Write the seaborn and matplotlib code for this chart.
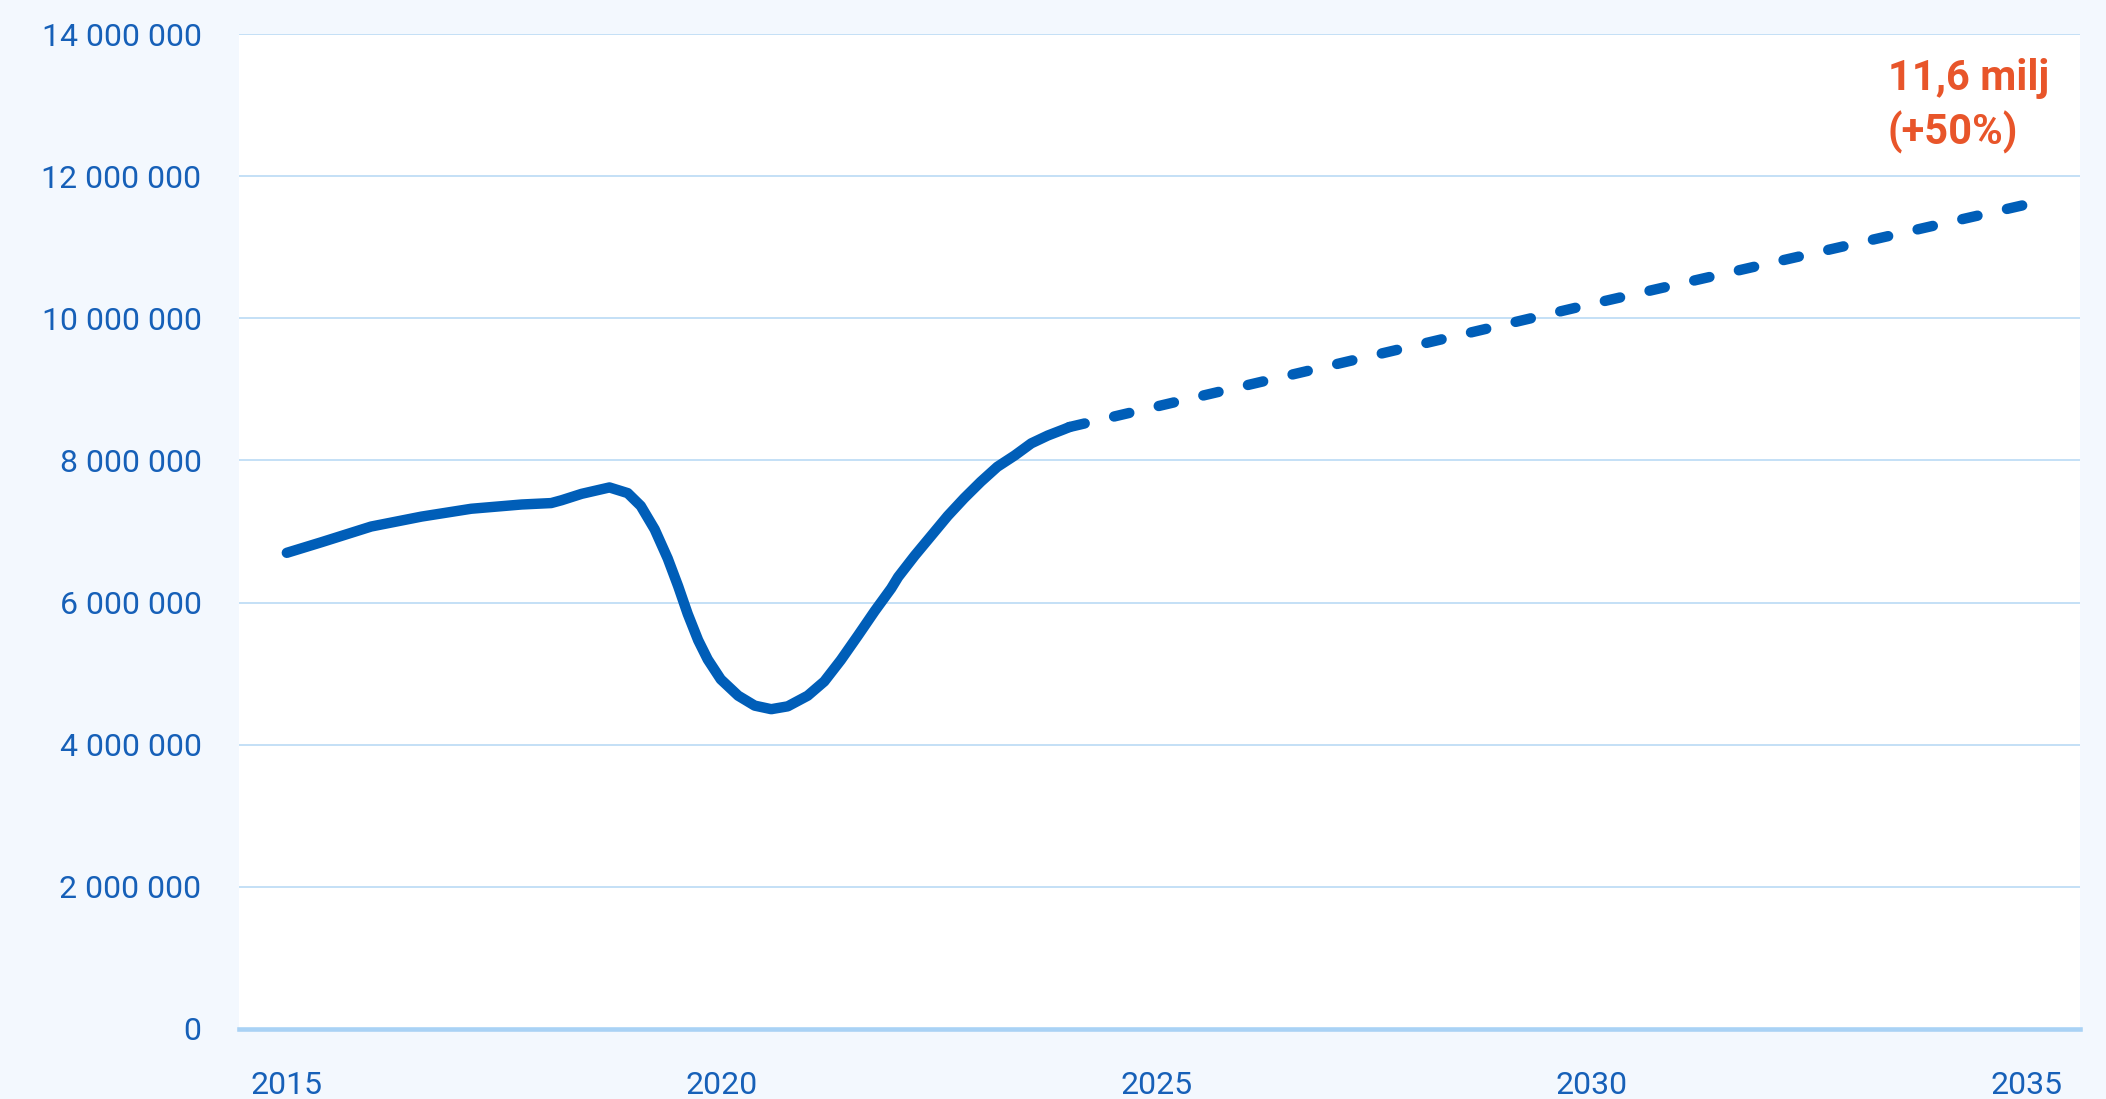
import matplotlib
matplotlib.use("Agg")
import matplotlib.pyplot as plt
import pandas as pd
import seaborn as sns

# Utfall (solid line), values in millions
years_actual = [2015.0, 2015.4, 2015.97, 2016.55, 2017.12, 2017.7, 2018.04, 2018.16,
                2018.39, 2018.71, 2018.92, 2019.07, 2019.23, 2019.38, 2019.5, 2019.61,
                2019.73, 2019.84, 2019.99, 2020.19, 2020.38, 2020.57, 2020.76, 2020.99,
                2021.18, 2021.37, 2021.57, 2021.76, 2021.95, 2022.03, 2022.22, 2022.41,
                2022.6, 2022.79, 2022.98, 2023.17, 2023.37, 2023.56, 2023.75, 2023.94,
                2024.0]
values_actual = [6.70, 6.85, 7.07, 7.21, 7.32, 7.38, 7.40, 7.44,
                 7.53, 7.62, 7.54, 7.36, 7.03, 6.62, 6.23, 5.84,
                 5.47, 5.20, 4.92, 4.69, 4.55, 4.50, 4.54, 4.69,
                 4.89, 5.19, 5.54, 5.88, 6.20, 6.36, 6.66, 6.94,
                 7.22, 7.47, 7.70, 7.91, 8.07, 8.24, 8.35, 8.44,
                 8.47]

# Prognos (dashed line)
years_forecast = [2024, 2030, 2035]
values_forecast = [8.47, 10.2, 11.6]

x_ticks = [2015, 2020, 2025, 2030, 2035]
y_ticks = [0, 2_000_000, 4_000_000, 6_000_000, 8_000_000, 10_000_000, 12_000_000, 14_000_000]
note = "11,6 milj\n(+50%)"

BG = "#F3F8FE"
LINE = "#005EB8"
TEXT = "#1660B8"
GRID = "#BFDDF6"
ORANGE = "#E8552A"

df = pd.concat([
    pd.DataFrame({"year": years_actual, "value": [v * 1e6 for v in values_actual], "serie": "Utfall"}),
    pd.DataFrame({"year": years_forecast, "value": [v * 1e6 for v in values_forecast], "serie": "Prognos"}),
], ignore_index=True)

sns.set_theme(style="white")
plt.rcParams["font.family"] = ["Roboto", "DejaVu Sans"]

fig = plt.figure(figsize=(21.06, 10.99), dpi=100, facecolor=BG)
ax = fig.add_axes([239 / 2106, 1 - 1029 / 1099, (2080 - 239) / 2106, (1029 - 34) / 1099])
ax.set_facecolor("white")

sns.lineplot(data=df, x="year", y="value", hue="serie", style="serie",
             palette={"Utfall": LINE, "Prognos": LINE},
             dashes={"Utfall": "", "Prognos": (1.5, 2.9)},
             linewidth=7.5, solid_capstyle="round", dash_capstyle="round",
             solid_joinstyle="round", legend=False, ax=ax, zorder=3)

ax.set_xlim(2014.45, 2035.62)
ax.set_ylim(0, 14_000_000)
ax.set_xticks(x_ticks)
ax.set_xticklabels([str(x) for x in x_ticks])
ax.set_yticks(y_ticks)
ax.set_yticklabels([f"{v:,}".replace(",", " ") for v in y_ticks])
ax.set_xlabel("")
ax.set_ylabel("")

ax.set_axisbelow(True)
ax.grid(axis="y", color=GRID, linewidth=1.3)
ax.grid(axis="x", visible=False)
for side in ["top", "left", "right"]:
    ax.spines[side].set_visible(False)
ax.spines["bottom"].set_color("#A9D2F5")
ax.spines["bottom"].set_linewidth(3.3)

ax.tick_params(axis="both", length=0, labelcolor=TEXT, labelsize=23)
ax.tick_params(axis="x", pad=30)
ax.tick_params(axis="y", pad=27)

# va="baseline" puts the last line's baseline at y
ax.text(2033.41, 12.44e6, note, color=ORANGE, fontsize=30, fontweight="bold",
        ha="left", va="baseline", linespacing=1.35)

fig.savefig("out.png", dpi=100, facecolor=BG)
